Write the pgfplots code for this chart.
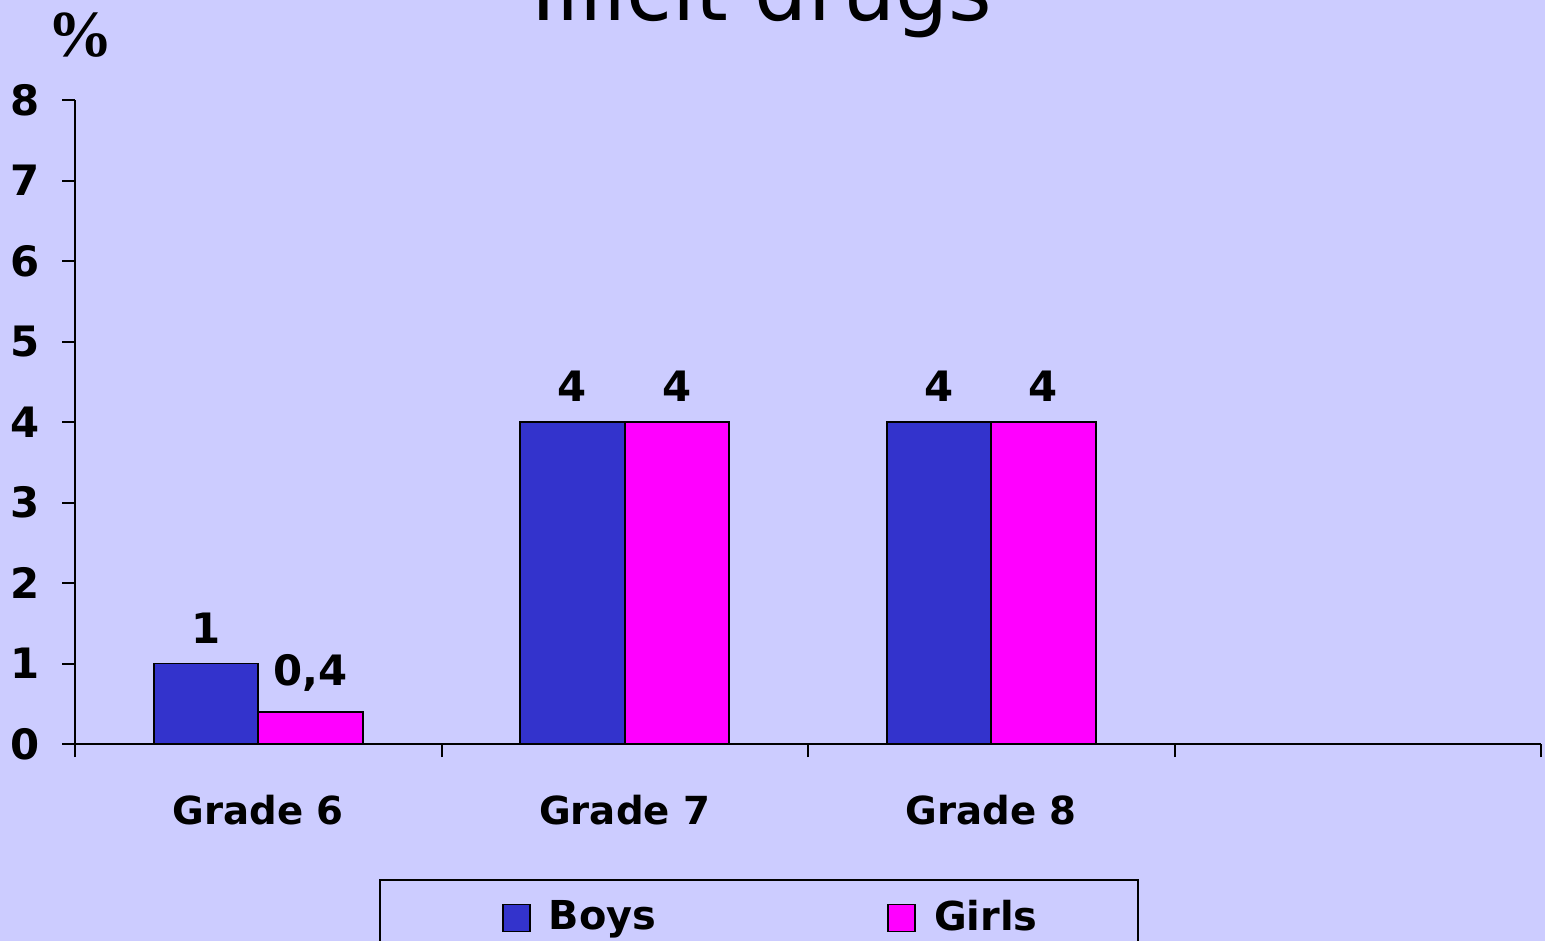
\documentclass[border=0pt]{standalone}
\usepackage{fontspec}
\setmainfont{DejaVu Sans}
\newfontfamily\pctfont{Liberation Serif}
\usepackage{pgfplots}
\pgfplotsset{compat=1.18}
\definecolor{bg}{HTML}{CCCCFF}
\definecolor{boys}{HTML}{3333CC}
\definecolor{girls}{HTML}{FF00FF}
\begin{document}
\begin{tikzpicture}
\clip (0,0) rectangle (386.25bp,235.25bp);
\fill[bg] (0,0) rectangle (386.25bp,235.25bp);
\node[font=\fontsize{21}{24}\selectfont, anchor=base] at (190.5bp,230bp) {Illicit drugs};
\node[font=\pctfont\bfseries\fontsize{16.5}{18}\selectfont] at (20bp,226.5bp) {\%};
\begin{axis}[
  at={(18.75bp,49.25bp)}, anchor=south west,
  scale only axis, width=366.5bp, height=161bp,
  ybar=0pt, bar width=0.285,
  xmin=-0.5, xmax=3.5, ymin=0, ymax=8,
  axis x line*=bottom, axis y line*=left,
  axis line style={black, line width=0.5bp},
  xtick={0,1,2}, xticklabels={Grade 6,Grade 7,Grade 8},
  major x tick style={draw=none},
  minor xtick={-0.5,0.5,1.5,2.5,3.5},
  ytick={0,1,...,8},
  tick align=outside,
  tick style={black, line width=0.5bp},
  major tick length=3.25bp, minor tick length=3.25bp,
  /pgf/number format/assume math mode=true,
  ticklabel style={font=\bfseries\fontsize{10.5}{12}\selectfont},
  xticklabel style={yshift=-6bp, font=\bfseries\fontsize{9.7}{12}\selectfont},
  yticklabel style={xshift=-2bp},
  nodes near coords={\pgfmathprintnumber[use comma]{\pgfplotspointmeta}},
  nodes near coords style={font=\bfseries\fontsize{10.5}{12}\selectfont, black, yshift=1.5bp},
  legend columns=2,
  legend style={at={(0.2074,-0.2096)}, anchor=north west, draw=black,
    line width=0.5bp, fill=none, font=\bfseries\fontsize{10}{12}\selectfont,
    inner xsep=30.5bp, inner ysep=3bp,
    /tikz/every even column/.append style={column sep=55.75bp}},
  legend image code/.code={\draw[#1,draw=black,line width=0.4bp] (0bp,-3.4bp) rectangle (6.75bp,3.4bp);
    \path[draw=none,fill=none] (0bp,0bp) -- (9.5bp,0bp);},
]
\addplot[fill=boys, draw=black, line width=0.4bp] coordinates {(0,1) (1,4) (2,4)};
\addplot[fill=girls, draw=black, line width=0.4bp] coordinates {(0,0.4) (1,4) (2,4)};
\legend{Boys, Girls\hspace*{-7.25bp}}
\end{axis}
\end{tikzpicture}
\end{document}
